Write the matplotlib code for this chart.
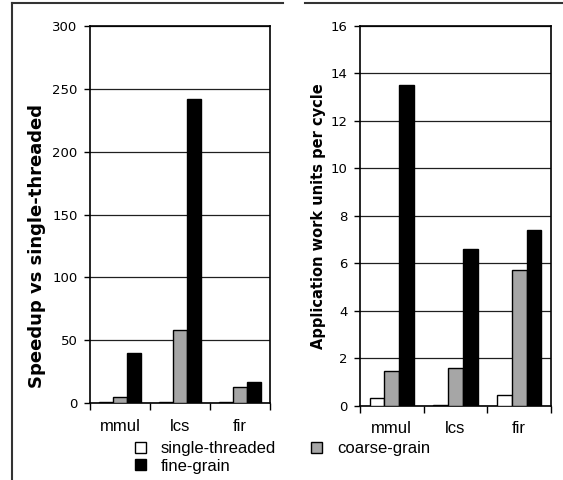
import matplotlib
matplotlib.use("Agg")
import matplotlib.pyplot as plt
from matplotlib.patches import Patch
from matplotlib.lines import Line2D
import numpy as np

benchmarks = ["mmul", "lcs", "fir"]
series = ["single-threaded", "coarse-grain", "fine-grain"]
colors = ["white", "#a6a6a6", "black"]

# speedup relative to the single-threaded run
speedup_single = [1.0, 1.0, 1.0]
speedup_coarse = [4.7, 58.2, 12.6]
speedup_fine = [40.3, 241.8, 16.6]

# application work units per cycle
wpc_single = [0.34, 0.02, 0.45]
wpc_coarse = [1.45, 1.59, 5.7]
wpc_fine = [13.5, 6.6, 7.4]

num_font = "DejaVu Sans"
txt_font = "Liberation Sans"

W, H = 563, 480
fig = plt.figure(figsize=(W / 100, H / 100), dpi=100)

ax1 = fig.add_axes([0.1599, 0.1597, 0.3197, 0.7868])
ax2 = fig.add_axes([0.6394, 0.1548, 0.3393, 0.7917])


def draw(ax, data, ymax, ystep):
    x = np.arange(len(benchmarks))
    w = 0.7 / 3
    for i, vals in enumerate(data):
        ax.bar(x + (i - 1) * w, vals, w, color=colors[i], edgecolor="black",
               linewidth=1.0, zorder=3)
    ax.set_xlim(-0.5, len(benchmarks) - 0.5)
    ax.set_ylim(0, ymax)
    ticks = np.arange(0, ymax + ystep / 2, ystep)
    ax.set_yticks(ticks)
    ax.set_yticklabels([f"{t:g}" for t in ticks], fontfamily=num_font, fontsize=9.5)
    ax.yaxis.grid(True, color="#202020", linewidth=0.9, zorder=0)
    ax.tick_params(axis="y", direction="out", length=4, width=1, pad=5)
    # boundaries between groups get the tick marks, names sit in between
    ax.set_xticks(np.arange(len(benchmarks) + 1) - 0.5)
    ax.set_xticklabels([])
    ax.set_xticks(x, minor=True)
    ax.set_xticklabels(benchmarks, minor=True, fontfamily=txt_font, fontsize=12)
    ax.tick_params(axis="x", which="major", direction="out", length=5, width=1)
    ax.tick_params(axis="x", which="minor", length=0, pad=11)
    for s in ax.spines.values():
        s.set_linewidth(1.2)


draw(ax1, [speedup_single, speedup_coarse, speedup_fine], 300, 50)
draw(ax2, [wpc_single, wpc_coarse, wpc_fine], 16, 2)

fig.text(37 / W, 1 - 246 / H, "Speedup vs single-threaded", rotation=90,
         ha="center", va="center", fontfamily=num_font, fontweight="bold",
         fontsize=13)
fig.text(319 / W, 1 - 216 / H, "Application work units per cycle", rotation=90,
         ha="center", va="center", fontfamily=num_font, fontweight="bold",
         fontsize=10.5)

# legend: two columns, fine-grain wraps under single-threaded
handles = [Patch(facecolor=colors[i], edgecolor="black", linewidth=1)
           for i in (0, 2, 1)]
labels = [series[i] for i in (0, 2, 1)]
fig.legend(handles, labels, ncol=2, loc="upper left",
           bbox_to_anchor=(135 / W, 1 - 441 / H), frameon=False,
           prop={"family": txt_font, "size": 12}, handlelength=0.65,
           handleheight=0.65, handletextpad=0.9, columnspacing=2.1,
           labelspacing=0.15, borderaxespad=0, borderpad=0)

# outer frame lines
frame = dict(transform=fig.transFigure, color="#333333", linewidth=1.5)
fig.add_artist(Line2D([11.5 / W, 11.5 / W], [0, 1 - 3 / H], **frame))
fig.add_artist(Line2D([11.5 / W, 283 / W], [1 - 3 / H, 1 - 3 / H], **frame))
fig.add_artist(Line2D([305 / W, 1], [1 - 3 / H, 1 - 3 / H], **frame))

fig.savefig("out.png", dpi=100)
